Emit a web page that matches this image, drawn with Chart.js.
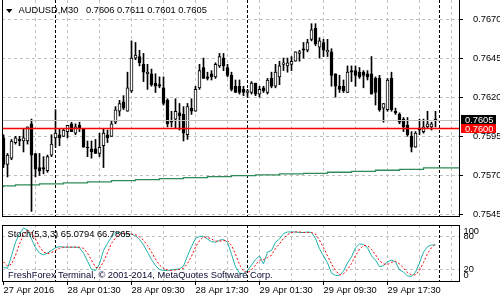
<!DOCTYPE html>
<html><head><meta charset="utf-8">
<script src="https://cdn.jsdelivr.net/npm/chart.js@4.4.0/dist/chart.umd.min.js"></script>
<style>
html,body{margin:0;padding:0;background:#fff;}
#wrap{position:relative;width:500px;height:300px;overflow:hidden;background:#fff;}
#c1{position:absolute;left:0;top:0;}
#c2{position:absolute;left:0;top:222px;}
</style></head><body>
<div id="wrap"><canvas id="c1" width="500" height="222"></canvas><canvas id="c2" width="500" height="78"></canvas></div>
<script>
const symbolTitle = "AUDUSD,M30";
const lastQuote = ["0.7606", "0.7611", "0.7601", "0.7605"];
const opens = [0.7594,0.7577,0.7581,0.7591,0.7593,0.7592,0.7592,0.7603,0.7584,0.7575,
 0.7575,0.7573,0.7583,0.7594,0.7596,0.7595,0.7598,0.7603,0.7597,0.7602,
 0.7600,0.7588,0.7587,0.7587,0.7584,0.7589,0.7596,0.7595,0.7604,0.7611,
 0.7617,0.7611,0.7624,0.7645,0.7646,0.7641,0.7635,0.7635,0.7629,0.7628,
 0.7626,0.7618,0.7605,0.7606,0.7610,0.7609,0.7596,0.7613,0.7611,0.7626,
 0.7639,0.7633,0.7635,0.7633,0.7640,0.7645,0.7639,0.7634,0.7627,0.7627,
 0.7625,0.7623,0.7623,0.7629,0.7622,0.7626,0.7623,0.7632,0.7627,0.7633,
 0.7641,0.7640,0.7641,0.7643,0.7648,0.7651,0.7650,0.7657,0.7664,0.7652,
 0.7655,0.7649,0.7649,0.7635,0.7627,0.7627,0.7623,0.7637,0.7637,0.7636,
 0.7636,0.7635,0.7635,0.7632,0.7632,0.7613,0.7612,0.7632,0.7611,0.7609,
 0.7606,0.7602,0.7595,0.7588,0.7600,0.7598,0.7601,0.7601,0.7606];
const highs = [0.7596,0.7584,0.7593,0.7595,0.7595,0.7600,0.7601,0.7606,0.7584,0.7584,
 0.7582,0.7583,0.7596,0.7612,0.7600,0.7600,0.7602,0.7604,0.7603,0.7604,
 0.7600,0.7592,0.7592,0.7593,0.7597,0.7600,0.7599,0.7605,0.7614,0.7618,
 0.7621,0.7636,0.7656,0.7655,0.7650,0.7648,0.7641,0.7638,0.7635,0.7633,
 0.7633,0.7619,0.7611,0.7619,0.7616,0.7614,0.7616,0.7619,0.7627,0.7641,
 0.7645,0.7636,0.7637,0.7642,0.7648,0.7648,0.7641,0.7636,0.7631,0.7631,
 0.7627,0.7625,0.7630,0.7629,0.7627,0.7627,0.7632,0.7636,0.7641,0.7643,
 0.7645,0.7645,0.7646,0.7649,0.7650,0.7655,0.7657,0.7667,0.7667,0.7658,
 0.7657,0.7657,0.7651,0.7635,0.7634,0.7631,0.7640,0.7640,0.7640,0.7639,
 0.7637,0.7637,0.7646,0.7633,0.7634,0.7616,0.7632,0.7636,0.7613,0.7610,
 0.7607,0.7607,0.7598,0.7598,0.7606,0.7606,0.7611,0.7604,0.7611];
const lows = [0.7575,0.7569,0.7580,0.7590,0.7589,0.7585,0.7590,0.7547,0.7569,0.7570,
 0.7571,0.7572,0.7582,0.7588,0.7589,0.7595,0.7594,0.7598,0.7596,0.7598,
 0.7588,0.7582,0.7581,0.7584,0.7582,0.7575,0.7591,0.7595,0.7603,0.7608,
 0.7612,0.7611,0.7623,0.7644,0.7640,0.7630,0.7625,0.7627,0.7623,0.7626,
 0.7615,0.7601,0.7601,0.7600,0.7599,0.7592,0.7593,0.7609,0.7611,0.7625,
 0.7632,0.7631,0.7631,0.7632,0.7639,0.7637,0.7633,0.7624,0.7623,0.7622,
 0.7621,0.7620,0.7622,0.7621,0.7620,0.7623,0.7622,0.7626,0.7626,0.7628,
 0.7637,0.7636,0.7637,0.7643,0.7643,0.7645,0.7649,0.7656,0.7653,0.7645,
 0.7646,0.7646,0.7627,0.7620,0.7623,0.7623,0.7623,0.7630,0.7627,0.7632,
 0.7626,0.7631,0.7622,0.7615,0.7611,0.7604,0.7611,0.7611,0.7609,0.7603,
 0.7598,0.7595,0.7585,0.7588,0.7596,0.7597,0.7600,0.7599,0.7601];
const closes = [0.7577,0.7583,0.7592,0.7594,0.7592,0.7594,0.7601,0.7583,0.7574,0.7573,
 0.7574,0.7582,0.7590,0.7597,0.7594,0.7599,0.7602,0.7598,0.7601,0.7600,
 0.7588,0.75875,0.7585,0.7584,0.7588,0.7597,0.7594,0.7603,0.7612,0.7616,
 0.7613,0.7626,0.7645,0.7647,0.7642,0.7636,0.7636,0.7628,0.7627,0.7627,
 0.7616,0.7603,0.7604,0.7611,0.7608,0.7597,0.7614,0.7611,0.7625,0.7637,
 0.7632,0.7632,0.7633,0.7641,0.7646,0.7640,0.7634,0.7625,0.7623,0.7623,
 0.7623,0.7624,0.7629,0.7622,0.7625,0.7624,0.7631,0.7627,0.7636,0.7640,
 0.7642,0.7642,0.7643,0.7649,0.7649,0.7650,0.7655,0.7663,0.7654,0.7656,
 0.7650,0.7650,0.7634,0.7627,0.7625,0.7624,0.7636,0.7636,0.7634,0.7633,
 0.7634,0.7633,0.7622,0.7623,0.7612,0.7616,0.7631,0.7612,0.7610,0.7604,
 0.7601,0.7596,0.7588,0.7597,0.7599,0.7601,0.7603,0.7603,0.7605];
const maStartBars = [0,3,9,15,21,27,33,39,45,51,57,63,69,75,81,87,93,99,105,111];
const maValues = [0.75624,0.75633,0.75639,0.75646,0.75652,0.75659,0.75667,0.75673,0.75680,0.75686,
 0.75692,0.75699,0.75703,0.75710,0.75713,0.75720,0.75726,0.75733,0.75739,0.75748];
const maEndBar = 114;
const stochK = [24,22,45,70,86,96,93,76,60,50,
 47,50,55,60,62,61,61,61,61,60,
 50,35,20,18,30,55,68,80,87,88,
 86,85,85,82,75,65,52,38,27,20,
 18,18,19,20,21,26,45,62,77,81,
 81,76,71,70,74,75,70,48,25,13,
 12,18,28,38,45,30,52,55,70,76,
 86,89,89,89,88,88,89,88,77,58,
 45,32,13,9,9,17,32,43,60,67,
 66,60,45,37,25,27,34,37,34,19,
 15,8,7,15,32,52,62,65,65.0794];
const stochD = [34,26,30,46,67,84,92,88,76,62,
 52,49,51,55,59,61,61,61,61,61,
 59,50,37,24,22,34,51,68,78,85,
 87,86,85,84,80,74,64,52,39,28,
 22,19,18,19,20,22,31,44,61,73,
 80,79,76,72,72,73,73,64,48,29,
 17,14,19,28,37,38,42,46,59,67,
 77,84,88,89,89,88,88,88,85,74,
 60,45,30,18,10,12,19,31,45,57,
 64,64,57,47,36,30,29,33,35,30,
 23,14,10,10,18,33,49,60,66.7865];
const stochTitle = "Stoch(5,3,3) 65.0794 66.7865";
const priceTicks = [0.7545, 0.7570, 0.7595, 0.7620, 0.7645, 0.7670];
const stochLevels = [100, 80, 20, 0];
const stochGridLevels = [80, 20];
const timeLabels = ["27 Apr 2016","28 Apr 01:30","28 Apr 09:30","28 Apr 17:30","29 Apr 01:30","29 Apr 09:30","29 Apr 17:30"];
const timeLabelBars = [0,16,32,48,64,80,96];
const daySeparatorBars = [13, 61, 109];
const bidPrice = 0.7605;
const linePrice = 0.7600;
const watermark = "FreshForex Terminal, \u00A9 2001-2014, MetaQuotes Software Corp.";

const FONT = '"Liberation Sans", Arial, sans-serif';
const FS = 9.3;
const X_MIN = -0.375, X_MAX = 114.125;
const P_MIN = 0.75434, P_MAX = 0.768215;
const S_MIN = -3.2, S_MAX = 101.8;

const idx = opens.map((_, i) => i);
const crisp = v => Math.floor(v) + 0.5;
function seg(ctx, x1, y1, x2, y2){ ctx.beginPath(); ctx.moveTo(x1,y1); ctx.lineTo(x2,y2); ctx.stroke(); }

function drawGrid(chart, hLevels, yScaleId) {
  const {ctx, chartArea: a} = chart;
  const xs = chart.scales.x, ys = chart.scales[yScaleId];
  ctx.save();
  ctx.beginPath(); ctx.rect(a.left, a.top, a.right - a.left, a.bottom - a.top); ctx.clip();
  ctx.lineWidth = 1; ctx.strokeStyle = '#c0c0c0'; ctx.setLineDash([3,3]);
  for (let b = 8; b <= X_MAX; b += 8) { const px = crisp(xs.getPixelForValue(b)); seg(ctx, px, a.top, px, a.bottom); }
  for (const v of hLevels) { const py = crisp(ys.getPixelForValue(v)); seg(ctx, a.left, py, a.right, py); }
  ctx.strokeStyle = '#000'; ctx.setLineDash([3,2]);
  for (const b of daySeparatorBars) { const px = crisp(xs.getPixelForValue(b)); seg(ctx, px, a.top, px, a.bottom); }
  ctx.restore();
}

const mainDecor = {
  id: 'mainDecor',
  beforeDatasetsDraw(chart) { drawGrid(chart, priceTicks, 'y'); },
  afterDatasetsDraw(chart) {
    const {ctx, chartArea: a} = chart; const ys = chart.scales.y;
    ctx.save();
    ctx.lineWidth = 1; ctx.setLineDash([]);
    const yb = crisp(ys.getPixelForValue(bidPrice));
    ctx.strokeStyle = '#c0c0c0'; seg(ctx, a.left, yb, a.right, yb);
    const yr = ys.getPixelForValue(linePrice);
    ctx.strokeStyle = '#ff0000'; ctx.lineWidth = 1.5; seg(ctx, a.left, yr, a.right, yr);
    ctx.lineWidth = 1; ctx.strokeStyle = '#000';
    seg(ctx, a.left + 0.5, a.top, a.left + 0.5, a.bottom);
    seg(ctx, a.right - 0.5, a.top, a.right - 0.5, a.bottom);
    seg(ctx, a.left, a.bottom - 0.5, a.right, a.bottom - 0.5);
    for (const p of priceTicks) { const py = crisp(ys.getPixelForValue(p)); seg(ctx, a.right, py, a.right + 3, py); }
    // price tags
    ctx.font = FS + 'px ' + FONT; ctx.textBaseline = 'middle'; ctx.textAlign = 'left';
    ctx.fillStyle = '#ff0000'; ctx.fillRect(a.right + 1, yr - 4.5, 35, 9);
    ctx.fillStyle = '#000000'; ctx.fillRect(a.right + 1, yr - 13.5, 35, 9);
    ctx.fillStyle = '#ffffff';
    ctx.fillText(linePrice.toFixed(4), a.right + 5, yr + 0.5);
    ctx.fillText(bidPrice.toFixed(4), a.right + 5, yr - 8.5);
    // header
    ctx.fillStyle = '#000';
    ctx.beginPath(); ctx.moveTo(6, 9); ctx.lineTo(12.5, 9); ctx.lineTo(9.25, 13); ctx.closePath(); ctx.fill();
    ctx.fillText(symbolTitle, 18.5, 10.8);
    ctx.fillText(lastQuote.join(' '), 86, 10.8);
    ctx.restore();
  }
};

const stochDecor = {
  id: 'stochDecor',
  beforeDatasetsDraw(chart) { drawGrid(chart, stochGridLevels, 'y'); },
  afterDatasetsDraw(chart) {
    const {ctx, chartArea: a} = chart; const ys = chart.scales.y;
    ctx.save();
    ctx.lineWidth = 1; ctx.setLineDash([]); ctx.strokeStyle = '#000';
    ctx.strokeRect(a.left + 0.5, a.top + 0.5, a.right - a.left - 1, a.bottom - a.top - 1);
    ctx.font = FS + 'px ' + FONT; ctx.textBaseline = 'middle'; ctx.textAlign = 'left'; ctx.fillStyle = '#000';
    for (const v of stochLevels) {
      const py = Math.min(Math.max(ys.getPixelForValue(v), a.top + 6.5), a.bottom - 6.2);
      ctx.fillText(String(v), a.right + 3.5, py);
    }
    ctx.fillText(stochTitle, 7.5, a.top + 9.7);
    ctx.fillStyle = '#0a0a30';
    ctx.fillText(watermark, 8, a.bottom - 7);
    ctx.restore();
  }
};

new Chart(document.getElementById('c1'), {
  type: 'bar',
  data: { datasets: [
    { label: 'body', data: idx.map(i => ({x: i, y: [opens[i], closes[i]]})),
      backgroundColor: idx.map(i => closes[i] >= opens[i] ? '#ffffff' : '#000000'),
      borderColor: '#000000', borderWidth: 1, borderSkipped: false, barThickness: 3, minBarLength: 1, grouped: false },
    { label: 'wick', data: idx.map(i => ({x: i, y: [lows[i], highs[i]]})),
      backgroundColor: '#000000', borderWidth: 0, barThickness: 1, grouped: false },
    { type: 'line', label: 'MA', data: maStartBars.map((b, k) => ({x: b, y: maValues[k]})).concat([{x: maEndBar, y: maValues[maValues.length - 1]}]),
      borderColor: '#2e8b57', borderWidth: 1.3, pointRadius: 0, stepped: 'after', fill: false }
  ]},
  options: {
    responsive: false, animation: false, events: [],
    layout: { padding: { left: 2, right: 0, top: 0, bottom: 5 } },
    plugins: { legend: { display: false }, tooltip: { enabled: false } },
    scales: {
      x: { type: 'linear', display: false, min: X_MIN, max: X_MAX, offset: false },
      y: { position: 'right', min: P_MIN, max: P_MAX,
           grid: { display: false }, border: { display: false },
           afterBuildTicks: s => { s.ticks = priceTicks.map(v => ({ value: v })); },
           afterFit: s => { s.width = 40; s.paddingTop = 0; s.paddingBottom = 0; },
           ticks: { autoSkip: false, padding: 5, color: '#000', font: { family: FONT, size: FS }, callback: v => Number(v).toFixed(4) } }
    }
  },
  plugins: [mainDecor]
});

new Chart(document.getElementById('c2'), {
  type: 'line',
  data: { datasets: [
    { label: 'Signal', data: idx.map(i => ({x: i, y: stochD[i]})), borderColor: '#ff0000', borderWidth: 1, borderDash: [2,2], pointRadius: 0, tension: 0, fill: false },
    { label: 'Main', data: idx.map(i => ({x: i, y: stochK[i]})), borderColor: '#20b2aa', borderWidth: 1, pointRadius: 0, tension: 0, fill: false }
  ]},
  options: {
    responsive: false, animation: false, events: [],
    layout: { padding: { left: 2, right: 40, top: 3, bottom: 0 } },
    plugins: { legend: { display: false }, tooltip: { enabled: false } },
    scales: {
      x: { type: 'linear', min: X_MIN, max: X_MAX, offset: false, position: 'bottom',
           afterBuildTicks: s => { s.ticks = timeLabelBars.map(v => ({ value: v })); },
           afterFit: s => { s.height = 18; s.paddingLeft = 0; s.paddingRight = 0; },
           grid: { drawOnChartArea: false, drawTicks: true, tickLength: 3, color: '#000' },
           border: { display: false },
           ticks: { autoSkip: false, maxRotation: 0, minRotation: 0, align: 'start', padding: 0, color: '#000',
                    font: { family: FONT, size: FS }, callback: (v, i) => timeLabels[i] } },
      y: { display: false, min: S_MIN, max: S_MAX }
    }
  },
  plugins: [stochDecor]
});
</script>
</body></html>
